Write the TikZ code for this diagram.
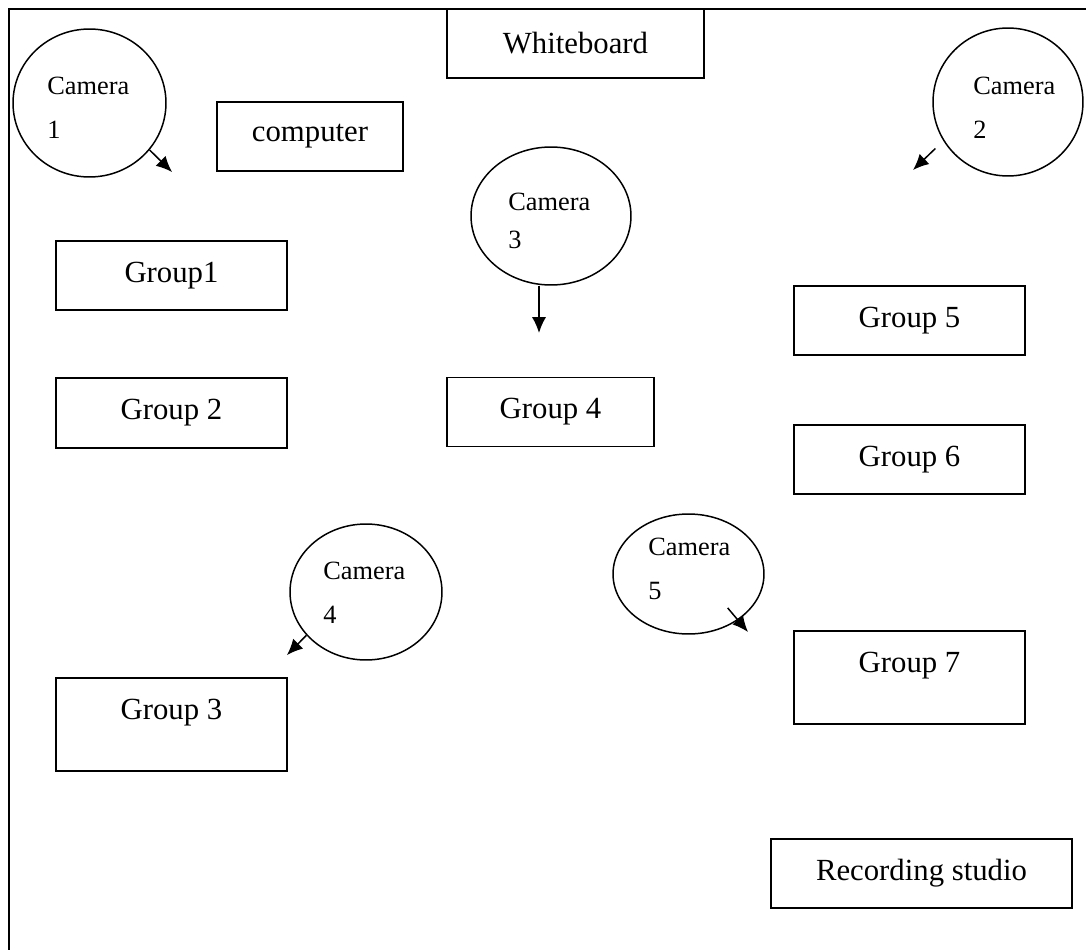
\documentclass[tikz,border=0pt]{standalone}
\usepackage{fontspec}
\setmainfont{Liberation Serif}
\usetikzlibrary{shapes.geometric,arrows.meta}

\begin{document}
\begin{tikzpicture}[x=0.02cm, y=-0.02cm,
    room/.style={draw, line width=1pt, minimum width=4.62cm, minimum height=1.38cm, inner sep=0pt, font=\fontsize{17.5}{21}\selectfont},
    tallroom/.style={room, minimum height=1.86cm, text depth=17pt},
    cam/.style={draw, ellipse, line width=0.85pt, inner sep=0pt},
    camtext/.style={anchor=west, inner sep=0pt, align=left, font=\fontsize{15}{25}\selectfont},
    camarrow/.style={line width=0.85pt, -{Latex[length=9pt,width=8pt]}}]
    \useasboundingbox (0,0) rectangle (1086,950);
    \draw[line width=1pt] (9,950) -- (9,9) -- (1086,9);
    \node[room, minimum width=5.14cm] (wb) at (575.5,43.5) {Whiteboard};
    \node[room, minimum width=3.72cm] (pc) at (310,136.5) {computer};
    \node[room] (g1) at (171.5,275.5) {Group1};
    \node[room, minimum height=1.4cm] (g2) at (171.5,413) {Group 2};
    \node[tallroom] (g3) at (171.5,724.5) {Group 3};
    \node[room, minimum width=4.14cm] (g4) at (550.5,412) {Group 4};
    \node[room] (g5) at (909.5,320.5) {Group 5};
    \node[room] (g6) at (909.5,459.5) {Group 6};
    \node[tallroom] (g7) at (909.5,677.5) {Group 7};
    \node[room, minimum width=6.02cm] (rs) at (921.5,873.5) {Recording studio};
    \node[cam, minimum width=3.06cm, minimum height=2.96cm] (c1) at (89.5,103) {};
    \node[cam, minimum width=3cm, minimum height=2.96cm] (c2) at (1008,102) {};
    \node[cam, minimum width=3.2cm, minimum height=2.76cm] (c3) at (551,216) {};
    \node[cam, minimum width=3.04cm, minimum height=2.72cm] (c4) at (366,592) {};
    \node[cam, minimum width=3.02cm, minimum height=2.4cm] (c5) at (688.5,574) {};
    \node[camtext] (t1) at (47,108) {Camera\\1};
    \node[camtext] (t2) at (973,107.5) {Camera\\2};
    \node[camtext, font=\fontsize{15}{21.5}\selectfont] (t3) at (508,221) {Camera\\3};
    \node[camtext] (t4) at (323,592.5) {Camera\\4};
    \node[camtext] (t5) at (648,568.5) {Camera\\5};
    \coordinate (a1) at (172,172);
    \coordinate (a2) at (913,170);
    \coordinate (a3) at (539,333);
    \coordinate (a4) at (287,655);
    \coordinate (a5) at (748,632);
    \draw[camarrow] (c1.-38) -- (a1);
    \draw[camarrow, shorten <=0.22cm] (c2.211) -- (a2);
    \draw[camarrow] (c3.south -| a3) -- (a3);
    \draw[camarrow] (c4.216) -- (a4);
    \draw[camarrow, shorten <=-0.32cm] (c5.-43) -- (a5);
\end{tikzpicture}
\end{document}
